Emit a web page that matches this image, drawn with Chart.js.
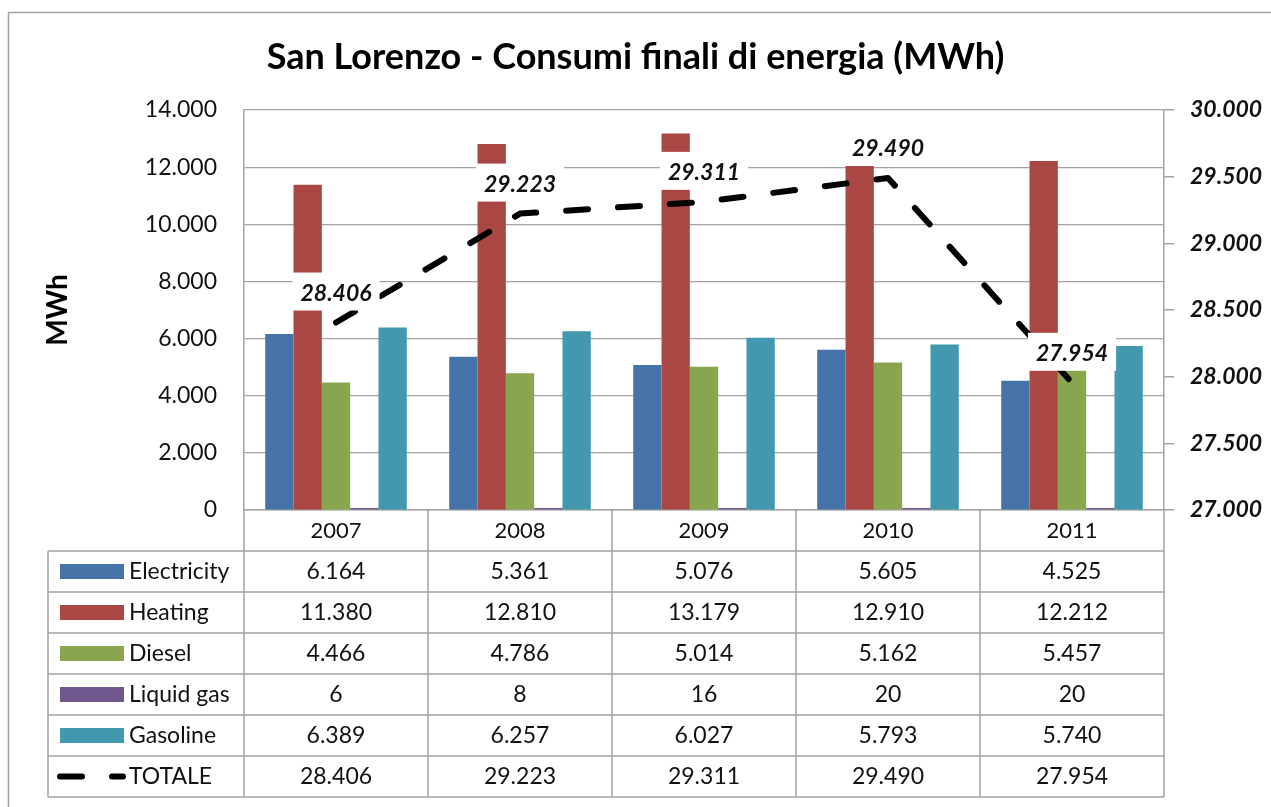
<!DOCTYPE html>
<html>
<head>
<meta charset="utf-8">
<title>San Lorenzo - Consumi finali di energia</title>
<script src="https://cdn.jsdelivr.net/npm/chart.js@4.4.1/dist/chart.umd.min.js"></script>
<style>
    html, body { margin: 0; padding: 0; background: #fff; }
    #wrap { width: 1271px; height: 807px; }
</style>
</head>
<body>
<div id="wrap"><canvas id="chart-energia" width="1271" height="807"></canvas></div>
<script>
// Dati (MWh)
const anni = ['2007', '2008', '2009', '2010', '2011'];
const electricity = [6164, 5361, 5076, 5605, 4525];
const heating = [11380, 12810, 13179, 12910, 12212];
const diesel = [4466, 4786, 5014, 5162, 5457];
const liquidGas = [6, 8, 16, 20, 20];
const gasoline = [6389, 6257, 6027, 5793, 5740];
const totale = [28406, 29223, 29311, 29490, 27954];

const FONT = "Lato, 'Noto Sans', sans-serif";
const GRIGIO = '#a3a3a3';
const TESTO = '#111';

/**
 * Formato italiano: punto come separatore delle migliaia
 */
function formatta(n) {
    return String(Math.round(n)).replace(/\B(?=(\d{3})+(?!\d))/g, '.');
}

/**
 * Sfondo bianco e bordo esterno del grafico
 */
const bordoEsterno = {
    id: 'bordoEsterno',
    beforeDraw(chart) {
        const { ctx, width, height } = chart;
        ctx.save();
        ctx.fillStyle = '#fff';
        ctx.fillRect(0, 0, width, height);
        ctx.strokeStyle = GRIGIO;
        ctx.lineWidth = 1.5;
        ctx.strokeRect(8.5, 12.5, width + 20, height + 20);
        ctx.restore();
    }
};

/**
 * Etichette del TOTALE con riquadro bianco
 */
const etichetteTotale = {
    id: 'etichetteTotale',
    afterDatasetsDraw(chart) {
        const idx = chart.data.datasets.findIndex(d => d.type === 'line');
        if (idx < 0) return;
        const meta = chart.getDatasetMeta(idx);
        const valori = chart.data.datasets[idx].data;
        const { ctx } = chart;
        ctx.save();
        ctx.font = `italic bold 23px ${FONT}`;
        ctx.textAlign = 'center';
        ctx.textBaseline = 'middle';
        meta.data.forEach((pt, i) => {
            const testo = formatta(valori[i]);
            const w = ctx.measureText(testo).width + 16;
            ctx.fillStyle = '#fff';
            ctx.fillRect(pt.x - w / 2, pt.y - 50, w, 38);
            ctx.fillStyle = TESTO;
            ctx.fillText(testo, pt.x, pt.y - 29);
        });
        ctx.restore();
    }
};

/**
 * Tabella dati sotto il grafico (legenda + valori)
 */
const tabellaDati = {
    id: 'tabellaDati',
    afterDraw(chart) {
        const { ctx, chartArea, scales: { x } } = chart;
        const datasets = chart.data.datasets;
        const top = x.top;
        const rowH = x.height;
        const nRows = datasets.length + 1;
        const bottom = top + rowH * nRows;
        const colW = (chartArea.right - chartArea.left) / anni.length;
        const sinistra = 48;

        ctx.save();
        ctx.strokeStyle = GRIGIO;
        ctx.lineWidth = 1.5;
        ctx.beginPath();
        for (let i = 1; i <= nRows; i++) {
            const y = top + rowH * i;
            ctx.moveTo(sinistra, y);
            ctx.lineTo(chartArea.right, y);
        }
        ctx.moveTo(sinistra, top + rowH);
        ctx.lineTo(sinistra, bottom);
        for (let j = 0; j <= anni.length; j++) {
            const xx = chartArea.left + colW * j;
            ctx.moveTo(xx, top);
            ctx.lineTo(xx, bottom);
        }
        ctx.stroke();

        ctx.font = `23px ${FONT}`;
        ctx.textBaseline = 'middle';
        datasets.forEach((ds, i) => {
            const yc = top + rowH * (i + 1) + rowH / 2;
            if (ds.type === 'line') {
                ctx.save();
                ctx.strokeStyle = ds.borderColor;
                ctx.lineWidth = 6;
                ctx.lineCap = 'round';
                ctx.setLineDash([22, 30]);
                ctx.beginPath();
                ctx.moveTo(60, yc);
                ctx.lineTo(123, yc);
                ctx.stroke();
                ctx.restore();
            } else {
                ctx.fillStyle = ds.backgroundColor;
                ctx.fillRect(60, yc - 7.5, 64, 15);
            }
            ctx.fillStyle = TESTO;
            ctx.textAlign = 'left';
            ctx.fillText(ds.label, 129, yc);
            ctx.textAlign = 'center';
            ds.data.forEach((v, j) => {
                ctx.fillText(formatta(v), x.getPixelForValue(j), yc);
            });
        });
        ctx.restore();
    }
};

const ctx = document.getElementById('chart-energia');

new Chart(ctx, {
    data: {
        labels: anni,
        datasets: [
            { type: 'bar', label: 'Electricity', data: electricity, backgroundColor: '#4572a7', yAxisID: 'y' },
            { type: 'bar', label: 'Heating', data: heating, backgroundColor: '#aa4643', yAxisID: 'y' },
            { type: 'bar', label: 'Diesel', data: diesel, backgroundColor: '#89a54e', yAxisID: 'y' },
            { type: 'bar', label: 'Liquid gas', data: liquidGas, backgroundColor: '#71588f', yAxisID: 'y' },
            { type: 'bar', label: 'Gasoline', data: gasoline, backgroundColor: '#4198af', yAxisID: 'y' },
            {
                type: 'line',
                label: 'TOTALE',
                data: totale,
                yAxisID: 'y2',
                order: -1,
                borderColor: '#000',
                borderWidth: 6,
                borderDash: [22, 30],
                borderCapStyle: 'round',
                borderJoinStyle: 'round',
                pointRadius: 0,
                tension: 0,
                fill: false
            }
        ]
    },
    options: {
        responsive: false,
        animation: false,
        devicePixelRatio: 1,
        categoryPercentage: 5 / 6.5,
        barPercentage: 1,
        minBarLength: 2,
        layout: { padding: { left: 0, right: 0, top: 0, bottom: 256 } },
        plugins: {
            legend: { display: false },
            tooltip: { enabled: false },
            title: {
                display: true,
                text: 'San Lorenzo - Consumi finali di energia (MWh)',
                color: '#000',
                font: { family: FONT, size: 36, weight: 'bold', lineHeight: 1.2 },
                padding: { top: 35.4, bottom: 31.4 }
            }
        },
        scales: {
            x: {
                grid: { display: false },
                border: { display: true, color: GRIGIO, width: 1.5 },
                ticks: { color: TESTO, font: { family: FONT, size: 22 }, padding: 0 },
                afterFit(scale) { scale.height = 41; }
            },
            y: {
                position: 'left',
                min: 0,
                max: 14000,
                grid: { color: GRIGIO, lineWidth: 1.2, drawTicks: false },
                border: { display: true, color: GRIGIO, width: 1.5 },
                ticks: {
                    stepSize: 2000,
                    padding: 27,
                    color: TESTO,
                    font: { family: FONT, size: 23 },
                    callback: v => formatta(v)
                },
                title: {
                    display: true,
                    text: 'MWh',
                    color: '#000',
                    font: { family: FONT, size: 28, weight: 'bold' },
                    padding: { top: 41, bottom: 0 }
                },
                afterFit(scale) { scale.width = 244; }
            },
            y2: {
                position: 'right',
                min: 27000,
                max: 30000,
                grid: { drawOnChartArea: false, drawTicks: true, tickLength: 10, color: GRIGIO, lineWidth: 1.5 },
                border: { display: true, color: GRIGIO, width: 1.5 },
                ticks: {
                    stepSize: 500,
                    padding: 16,
                    color: TESTO,
                    font: { family: FONT, size: 23, style: 'italic', weight: 'bold' },
                    callback: v => formatta(v)
                },
                afterFit(scale) { scale.width = 107; }
            }
        }
    },
    plugins: [bordoEsterno, etichetteTotale, tabellaDati]
});
</script>
</body>
</html>
